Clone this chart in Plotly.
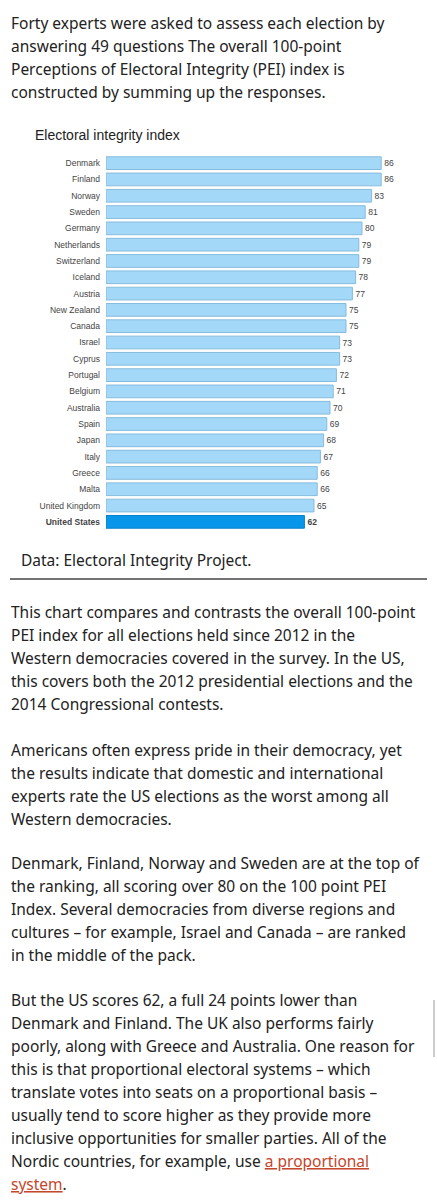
import plotly.graph_objects as go

countries = ["Denmark", "Finland", "Norway", "Sweden", "Germany", "Netherlands", "Switzerland",
             "Iceland", "Austria", "New Zealand", "Canada", "Israel", "Cyprus", "Portugal",
             "Belgium", "Australia", "Spain", "Japan", "Italy", "Greece", "Malta",
             "United Kingdom", "United States"]
scores = [86, 86, 83, 81, 80, 79, 79, 78, 77, 75, 75, 73, 73, 72, 71, 70, 69, 68, 67, 66, 66, 65, 62]

intro = ["Forty experts were asked to assess each election by",
         "answering 49 questions The overall 100-point",
         "Perceptions of Electoral Integrity (PEI) index is",
         "constructed by summing up the responses."]
paragraphs = [
    (612, ["This chart compares and contrasts the overall 100-point",
           "PEI index for all elections held since 2012 in the",
           "Western democracies covered in the survey. In the US,",
           "this covers both the 2012 presidential elections and the",
           "2014 Congressional contests."]),
    (750, ["Americans often express pride in their democracy, yet",
           "the results indicate that domestic and international",
           "experts rate the US elections as the worst among all",
           "Western democracies."]),
    (863, ["Denmark, Finland, Norway and Sweden are at the top of",
           "the ranking, all scoring over 80 on the 100 point PEI",
           "Index. Several democracies from diverse regions and",
           "cultures – for example, Israel and Canada – are ranked",
           "in the middle of the pack."]),
    (1000, ["But the US scores 62, a full 24 points lower than",
            "Denmark and Finland. The UK also performs fairly",
            "poorly, along with Greece and Australia. One reason for",
            "this is that proportional electoral systems – which",
            "translate votes into seats on a proportional basis –",
            "usually tend to score higher as they provide more",
            "inclusive opportunities for smaller parties. All of the",
            "Nordic countries, for example, use <span style='color:#c4462b'><u>a proportional</u></span>",
            "<span style='color:#c4462b'><u>system</u></span>."]),
]

H = 1200
def py(px):
    return 1 - px / H

is_us = [c == "United States" for c in countries]
ticks = ["<b>" + c + "</b>" if u else c for c, u in zip(countries, is_us)]
texts = ["<b>%d</b>" % s if u else str(s) for s, u in zip(scores, is_us)]

fig = go.Figure(go.Bar(
    x=scores, y=ticks, orientation="h",
    marker=dict(color=["#0896ea" if u else "#a3d8f8" for u in is_us],
                line=dict(color=["#0a7fc8" if u else "#86bbdc" for u in is_us], width=1)),
    text=texts, textposition="outside", cliponaxis=False,
    textfont=dict(family="Liberation Sans", size=8.5, color="#444"),
    width=0.78,
))

fig.update_layout(
    width=437, height=H, margin=dict(l=0, r=0, t=0, b=0),
    paper_bgcolor="white", plot_bgcolor="white", showlegend=False,
    xaxis=dict(domain=[106 / 437, 1], range=[0, 331 / 3.2], visible=False),
    yaxis=dict(domain=[py(530), py(155)], autorange="reversed", showgrid=False,
               tickfont=dict(family="Liberation Sans", size=8.5, color="#444"),
               ticks="", ticklabelstandoff=5),
)

text_font = dict(family="Noto Sans", size=15.5, color="#222")
ann = []
for i, line in enumerate(intro):
    ann.append(dict(x=9 / 437, y=py(23 + 23 * i), text=line))
ann.append(dict(x=19 / 437, y=py(560), text="Data: Electoral Integrity Project."))
for y0, lines in paragraphs:
    for i, line in enumerate(lines):
        ann.append(dict(x=9 / 437, y=py(y0 + 23 * i), text=line))
for a in ann:
    a.update(xref="paper", yref="paper", xanchor="left", yanchor="middle", showarrow=False,
             font=text_font)
ann.append(dict(x=33 / 437, y=py(135), xref="paper", yref="paper", xanchor="left", yanchor="middle",
                showarrow=False, text="Electoral integrity index",
                font=dict(family="Liberation Sans", size=14, color="#222")))
fig.update_layout(annotations=ann)

fig.add_shape(type="line", xref="paper", yref="paper", x0=10 / 437, x1=427 / 437,
              y0=py(579), y1=py(579), line=dict(color="#444", width=1.5))
fig.add_shape(type="line", xref="paper", yref="paper", x0=434 / 437, x1=434 / 437,
              y0=py(1000), y1=py(1057), line=dict(color="#ccc", width=2))

fig.write_html("out.html", config={"displayModeBar": False},
               post_script="document.body.style.margin='0';")
